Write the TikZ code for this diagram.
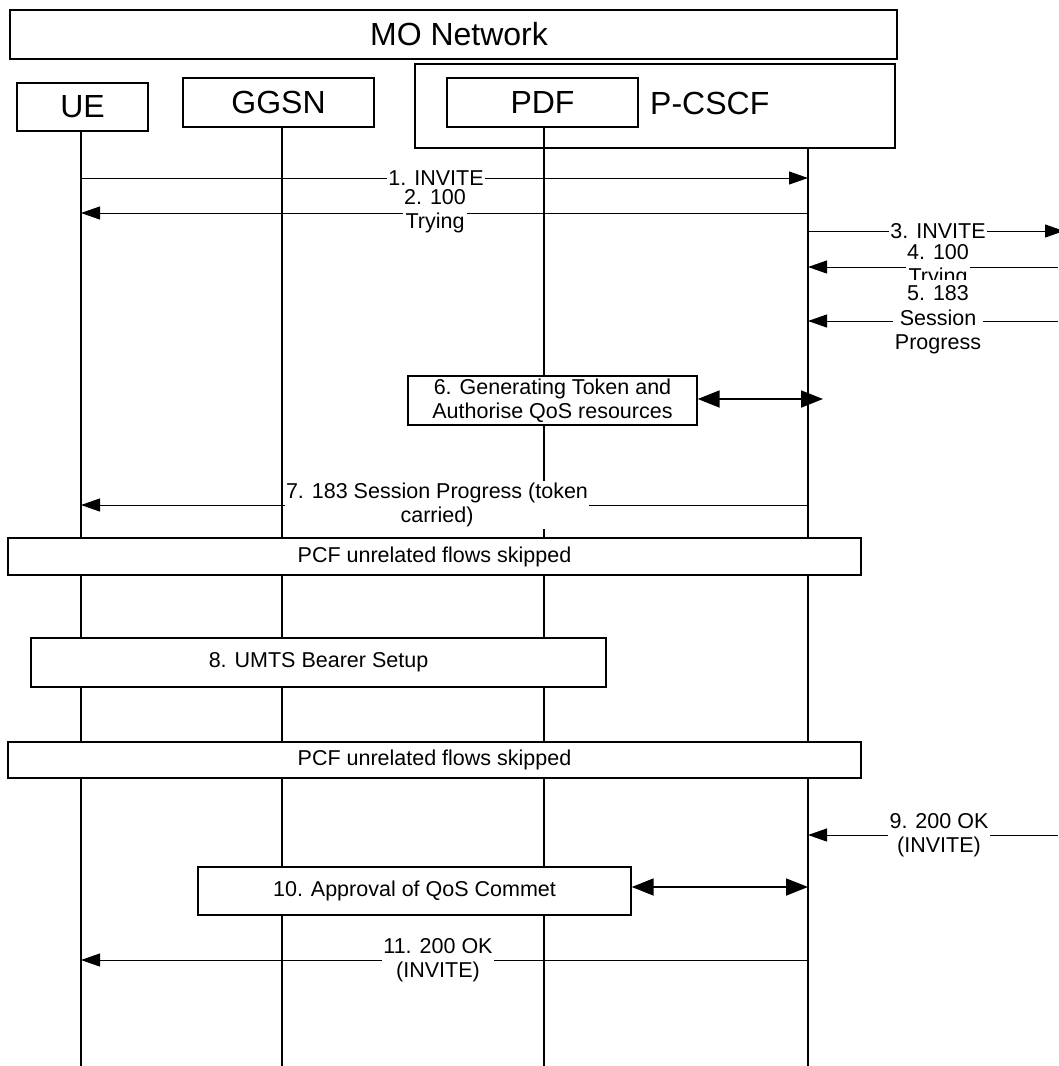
\documentclass[tikz,border=0pt]{standalone}
\usepackage{fontspec}
\setmainfont{Liberation Sans}
\usetikzlibrary{arrows.meta}
\begin{document}
\begin{tikzpicture}[x=1pt,y=-1pt,
  box/.style={draw, line width=1.4pt, inner sep=0pt, fill=white},
  hdr/.style={font=\fontsize{32}{36}\selectfont},
  life/.style={line width=1.8pt},
  msg/.style={line width=1pt, -{Triangle[length=19pt,width=13pt]}},
  dbl/.style={line width=1.8pt, {Triangle[length=22pt,width=17pt]}-{Triangle[length=22pt,width=17pt]}},
  lbl/.style={fill=white, inner sep=1.5pt, align=center, font=\fontsize{21.5}{24.5}\selectfont},
  txt/.style={align=center, font=\fontsize{21.5}{24.5}\selectfont}]
\useasboundingbox (0,0) rectangle (1058,1066);

% header boxes
\node[box, minimum width=887pt, minimum height=49pt] (mo) at (453.5,34.5) {};
\node[hdr, inner sep=0pt] (motxt) at (459,34) {MO Network};
\node[box, hdr, minimum width=131pt, minimum height=48pt] (ue) at (82.5,107) {UE};
\node[box, hdr, minimum width=191pt, minimum height=49pt] (ggsn) at (278.5,102.5) {GGSN};
\node[box, minimum width=480pt, minimum height=84pt] (pcscfbox) at (655,106) {};
\node[box, hdr, minimum width=191pt, minimum height=49pt] (pdf) at (542.5,102.5) {PDF};
\node[hdr, anchor=west, inner sep=0pt] (pcscf) at (650,103) {P-CSCF};

% lifeline anchors
\coordinate (lue) at (81,131);
\coordinate (lgg) at (282,127);
\coordinate (lpd) at (544,127);
\coordinate (lpc) at (808,148);
\coordinate (bot) at (0,1066);
\coordinate (redge) at (1058,0);
\coordinate (rout) at (1064,0);

\draw[life] (lue) -- (lue |- bot);
\draw[life] (lgg) -- (lgg |- bot);
\draw[life] (lpd) -- (lpd |- bot);
\draw[life] (lpc) -- (lpc |- bot);

% message rows
\coordinate (y1) at (0,178);
\coordinate (y2) at (0,213);
\coordinate (y3) at (0,231);
\coordinate (y4) at (0,267);
\coordinate (y5) at (0,321);
\coordinate (y6) at (0,399);
\coordinate (y7) at (0,505);
\coordinate (y9) at (0,835);
\coordinate (y10) at (0,887);
\coordinate (y11) at (0,960);

% 1
\draw[msg] (lue |- y1) -- (lpc |- y1);
\node[lbl] (l1) at (436,178) {1. INVITE};
% 2
\draw[msg] (lpc |- y2) -- (lue |- y2);
\node[lbl] (l2) at (435,211) {2. 100\\Trying};
% 3
\draw[msg] (lpc |- y3) -- (rout |- y3);
\node[lbl] (l3) at (938,231) {3. INVITE};
% 4
\draw[msg] (redge |- y4) -- (lpc |- y4);
\begin{scope}
  \clip (850,235) rectangle (1030,279);
  \node[lbl] (l4) at (938,266) {4. 100\\Trying};
\end{scope}
% 5
\draw[msg] (redge |- y5) -- (lpc |- y5);
\node[lbl] (l5) at (938,320) {5. 183\\Session\\Progress};
% 6
\node[box, txt, minimum width=289pt, minimum height=49pt] (b6) at (552.5,400.5) {6. Generating Token and\\Authorise QoS resources};
\coordinate (e6) at (823,399);
\draw[dbl] (b6.east |- y6) -- (e6);
% 7
\draw[msg] (lpc |- y7) -- (lue |- y7);
\node[lbl] (l7) at (437,505) {7. 183 Session Progress (token\\carried)};
% PCF 1
\node[box, txt, minimum width=853pt, minimum height=37pt] (pcf1) at (434.5,556.5) {PCF unrelated flows skipped};
% 8
\node[box, txt, minimum width=575pt, minimum height=49pt] (b8) at (318.5,662.5) {8. UMTS Bearer Setup};
% PCF 2
\node[box, txt, minimum width=853pt, minimum height=36pt] (pcf2) at (434.5,760) {PCF unrelated flows skipped};
% 9
\draw[msg] (redge |- y9) -- (lpc |- y9);
\node[lbl] (l9) at (939,835) {9. 200 OK\\(INVITE)};
% 10
\node[box, txt, minimum width=433pt, minimum height=48pt] (b10) at (414.5,891) {10. Approval of QoS Commet};
\draw[dbl] (b10.east |- y10) -- (lpc |- y10);
% 11
\draw[msg] (lpc |- y11) -- (lue |- y11);
\node[lbl] (l11) at (438,960) {11. 200 OK\\(INVITE)};
\end{tikzpicture}
\end{document}
